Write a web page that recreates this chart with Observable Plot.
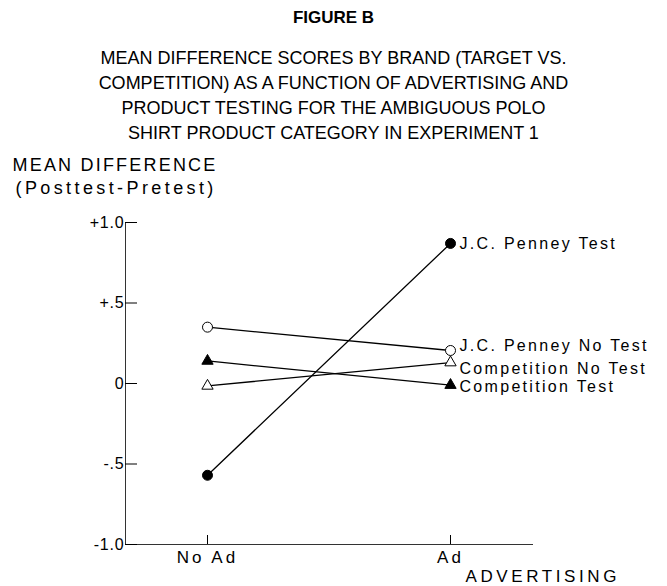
<!DOCTYPE html>
<html>
<head>
<meta charset="utf-8">
<script src="https://cdn.jsdelivr.net/npm/d3@7"></script>
<script src="https://cdn.jsdelivr.net/npm/@observablehq/plot@0.6"></script>
<style>
  body { margin: 0; background: #fff; }
  #wrap { position: relative; width: 667px; height: 586px; font-family: "Liberation Sans", Arial, sans-serif; color: #000; overflow: hidden; }
  #title { position: absolute; top: 8px; left: 0; width: 667px; text-align: center; font-weight: bold; font-size: 17px; line-height: 20px; }
  #subtitle { position: absolute; top: 46px; left: 0; width: 667px; text-align: center; font-size: 18px; line-height: 25px; }
  #chart { position: absolute; top: 150px; left: 0; }
  #chart svg text { letter-spacing: 2.3px; }
  #chart svg g[aria-label="x-axis tick label"] text { letter-spacing: 3px; }
  #chart svg g[aria-label="y-axis tick label"] text { letter-spacing: 0.8px; }
</style>
</head>
<body>
<div id="wrap">
  <div id="title">FIGURE B</div>
  <div id="subtitle">MEAN DIFFERENCE SCORES BY BRAND (TARGET VS.<br>COMPETITION) AS A FUNCTION OF ADVERTISING AND<br>PRODUCT TESTING FOR THE AMBIGUOUS POLO<br>SHIRT PRODUCT CATEGORY IN EXPERIMENT 1</div>
  <div id="chart"></div>
</div>
<script>
// ---- data ----
const categories = ["No Ad", "Ad"];
const seriesNames = ["J.C. Penney Test", "J.C. Penney No Test", "Competition No Test", "Competition Test"];
const jcpTest = [-0.57, 0.87];
const jcpNoTest = [0.35, 0.205];
const compNoTest = [-0.015, 0.13];
const compTest = [0.14, -0.01];
const yTicks = [-1, -0.5, 0, 0.5, 1];
const yTickLabels = ["-1.0", "-.5", "0", "+.5", "+1.0"];
const yTitleLines = ["MEAN DIFFERENCE", "(Posttest-Pretest)"];
const xTitle = "ADVERTISING";

// ---- build table ----
const seriesValues = [jcpTest, jcpNoTest, compNoTest, compTest];
const seriesSymbol = ["circle", "circle", "triangle", "triangle"];
const seriesFill = ["black", "white", "white", "black"];
const rows = [];
seriesNames.forEach((s, i) => {
  categories.forEach((c, j) => {
    rows.push({series: s, adv: c, value: seriesValues[i][j], symbol: seriesSymbol[i], fill: seriesFill[i]});
  });
});
const lastRows = rows.filter(d => d.adv === categories[categories.length - 1]);
const labelNudge = {"J.C. Penney Test": 0, "J.C. Penney No Test": -5, "Competition No Test": 6, "Competition Test": 2};

const plot = Plot.plot({
  width: 667,
  height: 436,
  marginTop: 72,
  marginBottom: 42,
  marginLeft: 125,
  marginRight: 135,
  style: {fontFamily: "'Liberation Sans', Arial, sans-serif", fontSize: "15px", color: "black", background: "white", overflow: "visible"},
  x: {type: "point", domain: categories, padding: 0.335},
  y: {domain: [-1, 1]},
  marks: [
    Plot.frame({anchor: "left", stroke: "#333", strokeWidth: 1}),
    Plot.frame({anchor: "bottom", stroke: "#333", strokeWidth: 1}),
    Plot.axisY({ticks: yTicks, tickFormat: d => yTickLabels[yTicks.indexOf(d)], tickSize: -12, tickPadding: 13, fontSize: 16, label: null}),
    Plot.axisX({tickSize: -9, tickPadding: 15, fontSize: 17, label: null}),
    Plot.line(rows, {x: "adv", y: "value", z: "series", stroke: "black", strokeWidth: 1.3}),
    Plot.dot(rows.filter(d => d.symbol === "circle"), {x: "adv", y: "value", symbol: "circle", fill: "fill", stroke: "black", strokeWidth: 1, r: 5}),
    Plot.dot(rows.filter(d => d.symbol === "triangle"), {x: "adv", y: "value", symbol: "triangle", fill: "fill", stroke: "black", strokeWidth: 1, r: 4.2}),
    ...seriesNames.map(s => Plot.text(lastRows.filter(d => d.series === s), {x: "adv", y: "value", text: "series", textAnchor: "start", dx: 9, dy: labelNudge[s], fontSize: 16, fill: "black"})),
    Plot.text([yTitleLines[0]], {frameAnchor: "top-left", dx: -113, dy: -57, textAnchor: "start", lineAnchor: "middle", fontSize: 18, fill: "black"}),
    Plot.text([yTitleLines[1]], {frameAnchor: "top-left", dx: -110, dy: -34, textAnchor: "start", lineAnchor: "middle", fontSize: 18, fill: "black"}),
    Plot.text([xTitle], {frameAnchor: "bottom-right", dx: -67, dy: 32, textAnchor: "start", lineAnchor: "middle", fontSize: 17, fill: "black"})
  ]
});
document.getElementById("chart").appendChild(plot);
// letter-spacing tweaks for the wide-tracked axis titles
d3.select(plot).selectAll("text").each(function () {
  const t = this.textContent;
  if (t === yTitleLines[0]) this.style.letterSpacing = "2.2px";
  if (t === yTitleLines[1]) this.style.letterSpacing = "3.4px";
  if (t === xTitle) this.style.letterSpacing = "3.6px";
});
</script>
</body>
</html>
